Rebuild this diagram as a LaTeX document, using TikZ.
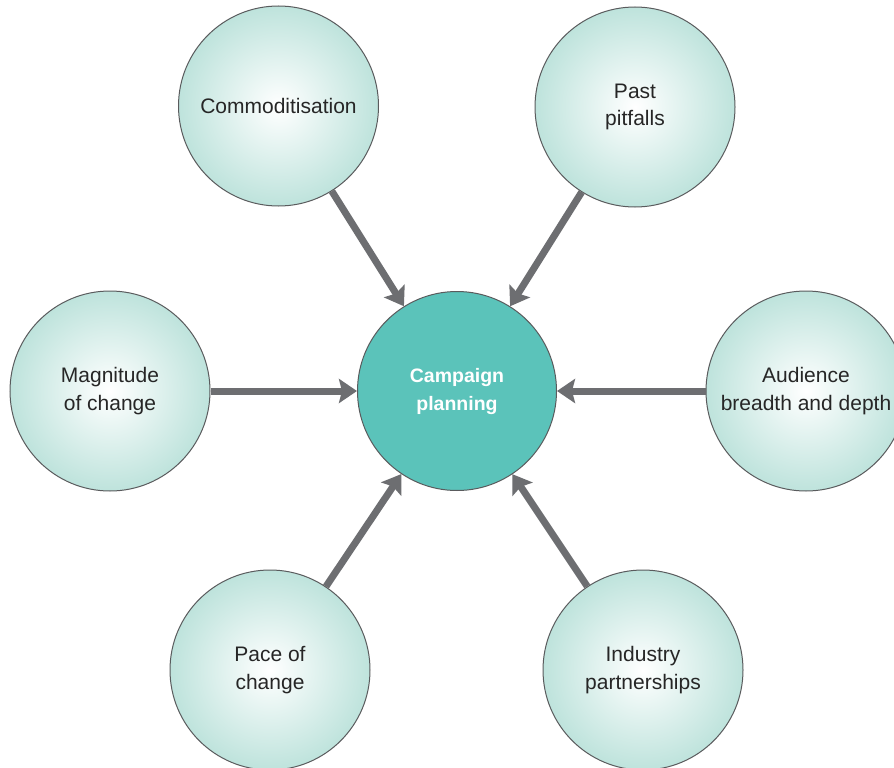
\documentclass[tikz,border=0pt]{standalone}
\usepackage{fontspec}
\setmainfont{Liberation Sans}
\usetikzlibrary{arrows.meta}
\definecolor{arrgray}{HTML}{6D6E71}
\definecolor{rimgray}{HTML}{5A5B5D}
\definecolor{paleteal}{RGB}{190,227,220}
\definecolor{hubteal}{HTML}{5BC3BA}
\tikzset{
  outer/.style={circle, draw=rimgray, line width=1pt, minimum size=200pt, inner sep=0pt,
    shading=radial, inner color=white, outer color=paleteal,
    align=center, font=\fontsize{21}{27.5}\selectfont, text=black!85},
  hub/.style={circle, draw=rimgray, line width=1pt, minimum size=199pt, inner sep=0pt,
    fill=hubteal, align=center, text=white, font=\bfseries\fontsize{19.5}{28}\selectfont},
  feed/.style={draw=arrgray, line width=7pt,
    -{Stealth[length=18pt, width=24pt, inset=3pt]}}
}
\begin{document}
\begin{tikzpicture}
\useasboundingbox (0,0) rectangle (894pt,-768pt);
\clip (0,0) rectangle (894pt,-768pt);
\fill[white] (0,0) rectangle (894pt,-768pt);
\node[hub] (hub) at (457pt,-391pt) {Campaign\\planning};
\node[outer] (com) at (278.5pt,-106pt) {Commoditisation};
\node[outer] (past) at (635pt,-107pt) {Past\\pitfalls};
\node[outer] (mag) at (110pt,-391pt) {Magnitude\\of change};
\node[outer] (aud) at (806pt,-391pt) {Audience\\breadth and depth};
\node[outer] (pace) at (270pt,-670pt) {Pace of\\change};
\node[outer] (ind) at (643pt,-670pt) {Industry\\partnerships};
\foreach \n in {com,past,mag,aud,pace,ind}
  \draw[feed] (\n) -- (hub);
\end{tikzpicture}
\end{document}
